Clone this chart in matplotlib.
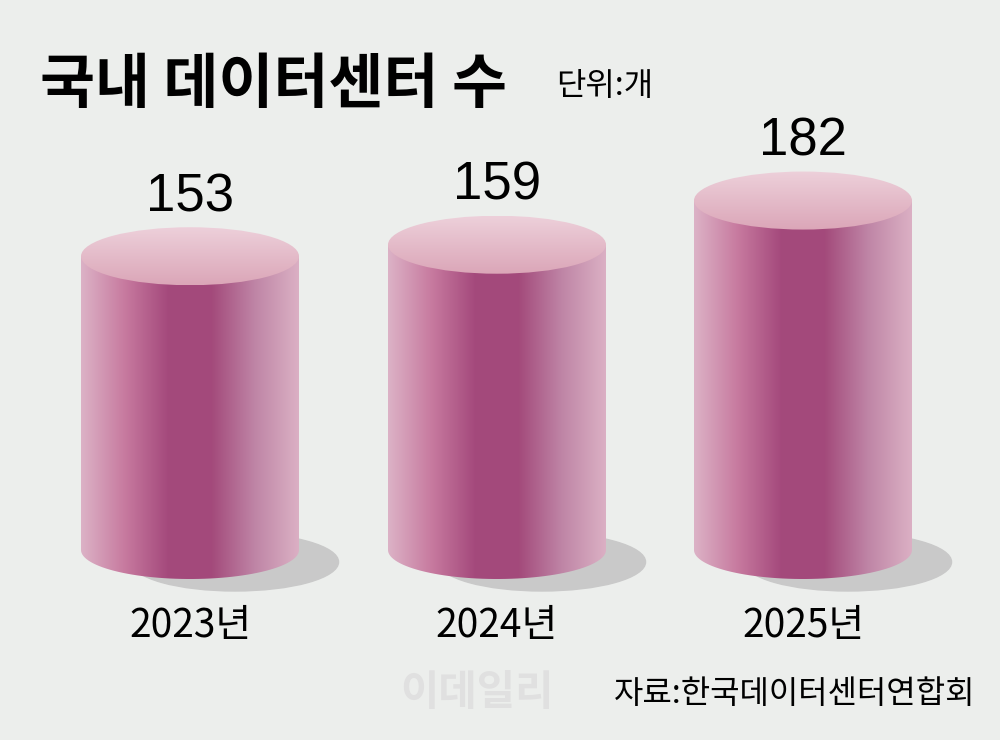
import numpy as np
import matplotlib
matplotlib.use("Agg")
import matplotlib.pyplot as plt
from matplotlib.patches import Ellipse, Polygon
from matplotlib.colors import LinearSegmentedColormap

years = ["2023년", "2024년", "2025년"]
values = [153, 159, 182]

plt.rcParams['font.family'] = ['Noto Sans CJK KR', 'DejaVu Sans']
fig = plt.figure(figsize=(10, 7.4), dpi=100)
fig.patch.set_facecolor('#eceeec')
ax = fig.add_axes([0, 0, 1, 1])
ax.set_xlim(0, 1000); ax.set_ylim(740, 0); ax.axis('off')

base = 550
k = 1.92
w = 218
eh = 58
centers = [190, 497, 803]
side = LinearSegmentedColormap.from_list('s', ['#dcb2c6', '#c77a9f', '#a4497c', '#a34a7b', '#bf85a6', '#dbb0c4'])
topc = LinearSegmentedColormap.from_list('t', ['#edd0da', '#dba6b8'])
numfont = ['Liberation Sans Narrow', 'Liberation Sans', 'DejaVu Sans']
for cx, v, yl in zip(centers, values, years):
    top = base - v * k
    ax.add_patch(Ellipse((cx + 45, base + 12), w * 0.95, eh, color='#c9c9c9', zorder=1))
    verts = [(cx - w/2, top)] + [(cx - w/2 * np.cos(t), base + eh/2 * np.sin(t)) for t in np.linspace(0, np.pi, 60)] + [(cx + w/2, top)]
    body = Polygon(verts, closed=True, facecolor='none', edgecolor='none', zorder=2)
    ax.add_patch(body)
    grad = np.linspace(0, 1, 256).reshape(1, -1)
    im = ax.imshow(grad, cmap=side, extent=[cx - w/2, cx + w/2, base + eh/2, top], aspect='auto', zorder=2)
    im.set_clip_path(body)
    te = Ellipse((cx, top), w, eh, facecolor='none', edgecolor='none', zorder=3)
    ax.add_patch(te)
    g2 = np.linspace(0, 1, 256).reshape(-1, 1)
    im2 = ax.imshow(g2, cmap=topc, extent=[cx - w/2, cx + w/2, top + eh/2, top - eh/2], aspect='auto', zorder=3)
    im2.set_clip_path(te)
    ax.text(cx, top - 45, str(v), ha='center', va='baseline', fontsize=38, family=numfont, zorder=4)
    ax.text(cx, 637, yl, ha='center', va='baseline', fontsize=28, family=['Liberation Sans Narrow', 'Noto Sans CJK KR'], zorder=4)

ax.text(40, 103, "국내 데이터센터 수", fontsize=43, fontweight='bold', va='baseline', ha='left')
ax.text(556, 95, "단위:개", fontsize=23, va='baseline', ha='left')
ax.text(400, 705, "이데일리", fontsize=30, fontweight='bold', color='#e0e0e0', va='baseline', zorder=0)
ax.text(975, 703, "자료:한국데이터센터연합회", fontsize=23, va='baseline', ha='right', zorder=5)
fig.savefig('out.png', dpi=100, facecolor=fig.get_facecolor())
